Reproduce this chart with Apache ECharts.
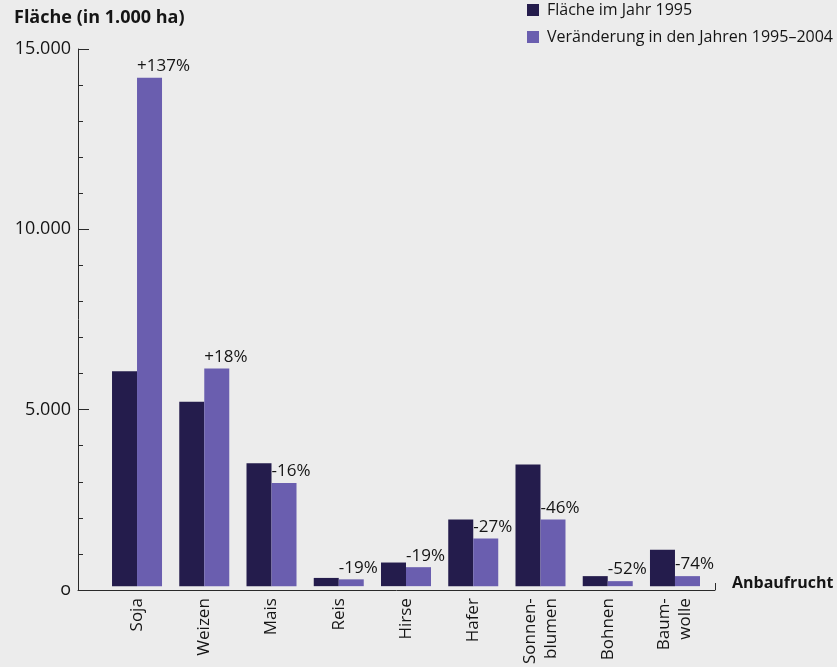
<!DOCTYPE html>
<html>
<head>
<meta charset="utf-8">
<script src="https://cdn.jsdelivr.net/npm/echarts@6/dist/echarts.min.js"></script>
<style>
html,body{margin:0;padding:0;background:#ececec;}
#c{width:837px;height:667px;}
</style>
</head>
<body>
<div id="c"></div>
<script>
var categories = ['Soja', 'Weizen', 'Mais', 'Reis', 'Hirse', 'Hafer', 'Sonnen-\nblumen', 'Bohnen', 'Baum-\nwolle'];
var area1995 = [6000, 5150, 3430, 230, 660, 1860, 3400, 280, 1020];
var area2004 = [14200, 6080, 2880, 190, 530, 1330, 1860, 140, 280];
var changeLabels = ['+137%', '+18%', '-16%', '-19%', '-19%', '-27%', '-46%', '-52%', '-74%'];
var yTicks = [0, 5000, 10000, 15000];
var yTickLabels = {0: 'o', 5000: '5.000', 10000: '10.000', 15000: '15.000'};

var FONT = '"Open Sans", "Noto Sans", sans-serif';
var TXT = '#151515';
var chart = echarts.init(document.getElementById('c'));
chart.setOption({
  backgroundColor: '#ececec',
  animation: false,
  textStyle: {fontFamily: FONT, color: TXT},
  title: {
    text: 'Fläche (in 1.000 ha)',
    left: 9, top: 4,
    textStyle: {fontFamily: FONT, fontWeight: 'bold', fontSize: 18, color: TXT}
  },
  legend: {
    orient: 'vertical',
    left: 527, top: 2, padding: 0,
    itemWidth: 12, itemHeight: 12, itemGap: 11,
    icon: 'rect',
    textStyle: {fontFamily: FONT, fontSize: 16, color: TXT, padding: [0, 0, 0, 3]},
    data: ['Fläche im Jahr 1995', 'Veränderung in den Jahren 1995–2004']
  },
  grid: [
    {left: 78, top: 49, width: 637, height: 541, containLabel: false},
    {left: 103.4, top: 49, width: 605.2, height: 541, containLabel: false}
  ],
  xAxis: [
    {
      gridIndex: 0, type: 'value', min: 0, max: 1, interval: 1,
      axisLine: {show: true, lineStyle: {color: '#2a2a2a', width: 1}},
      axisTick: {show: true, inside: true, length: 7, lineStyle: {color: '#2a2a2a'}},
      axisLabel: {show: false},
      splitLine: {show: false},
      name: 'Anbaufrucht', nameLocation: 'end', nameGap: 17,
      nameTextStyle: {fontFamily: FONT, fontWeight: 'bold', fontSize: 16, lineHeight: 14, verticalAlign: 'bottom', align: 'left', color: TXT}
    },
    {
      gridIndex: 1, type: 'category', data: categories,
      axisLine: {show: false}, axisTick: {show: false},
      axisLabel: {rotate: 90, margin: 12, fontSize: 17, lineHeight: 21, color: TXT, fontFamily: FONT, interval: 0}
    }
  ],
  yAxis: [
    {
      gridIndex: 0, type: 'value', min: 0, max: 15000, interval: 5000,
      axisLine: {show: true, lineStyle: {color: '#2a2a2a', width: 1}},
      axisTick: {show: true, inside: true, length: 11, lineStyle: {color: '#2a2a2a'}},
      minorTick: {show: true, splitNumber: 5, length: 5, lineStyle: {color: '#2a2a2a'}},
      splitLine: {show: false},
      axisLabel: {
        margin: 7, fontSize: 18, color: TXT, fontFamily: FONT,
        formatter: function (v) { return yTickLabels[v] !== undefined ? yTickLabels[v] : ''; }
      }
    },
    {
      gridIndex: 1, type: 'value', min: 0, max: 15000, show: false
    }
  ],
  series: [
    {
      name: 'Fläche im Jahr 1995', type: 'bar', xAxisIndex: 1, yAxisIndex: 1,
      data: area1995, barWidth: 25, barGap: '0%',
      itemStyle: {color: '#241c4c'}
    },
    {
      name: 'Veränderung in den Jahren 1995–2004', type: 'bar', xAxisIndex: 1, yAxisIndex: 1,
      data: area2004, barWidth: 25, barGap: '0%',
      itemStyle: {color: '#6a5eaf'},
      label: {
        show: true, position: [0, -3], align: 'left', verticalAlign: 'bottom',
        fontSize: 17, color: TXT, fontFamily: FONT,
        formatter: function (p) { return changeLabels[p.dataIndex]; }
      }
    }
  ]
});
</script>
</body>
</html>
